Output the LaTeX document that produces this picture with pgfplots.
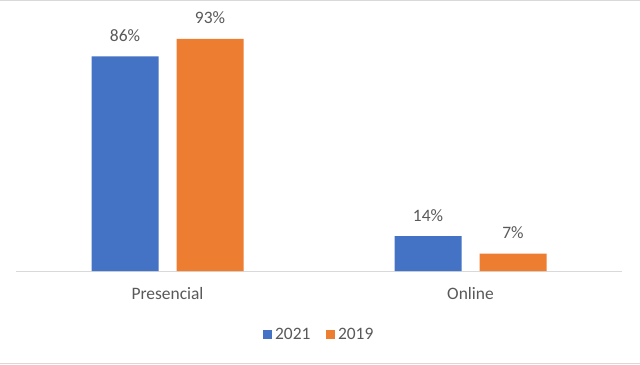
\documentclass[border=0pt]{standalone}
\usepackage{pgfplots}
\pgfplotsset{compat=1.18}
\usepackage{fontspec}
\setmainfont{Carlito}
\definecolor{cblue}{HTML}{4472C4}
\definecolor{corange}{HTML}{ED7D31}
\definecolor{ctext}{HTML}{595959}
\definecolor{cline}{HTML}{D9D9D9}
\newcommand{\lblfont}{\fontsize{17.5}{20}\selectfont}
\pgfplotsset{sqlegend/.style={legend image code/.code={\fill[##1] (0bp,-4.5bp) rectangle (8.5bp,4.5bp);}}}
\begin{document}
\begin{tikzpicture}[x=1bp,y=1bp]
\useasboundingbox (0,0) rectangle (640,364);
\fill[white] (0,0) rectangle (640,364);
\draw[cline, line width=1.5bp] (0,363.25) -- (640,363.25);
\draw[cline, line width=1.5bp] (0,0.75) -- (640,0.75);
\begin{axis}[
  at={(16bp,93bp)}, anchor=south west,
  scale only axis, width=606bp, height=249.5bp,
  xmin=-0.5, xmax=1.5, ymin=0, ymax=100,
  ybar=18bp, bar width=67bp,
  /pgf/number format/assume math mode=true,
  xtick={0,1}, xticklabels={Presencial,Online},
  axis x line=bottom, axis y line=none,
  x axis line style={-, draw=cline, line width=1bp},
  major tick length=0pt, ytick=\empty,
  xticklabel style={anchor=base, inner sep=0pt, yshift=-28bp, font=\lblfont, text=ctext},
  nodes near coords={\pgfmathprintnumber{\pgfplotspointmeta}\%},
  nodes near coords style={anchor=base, inner sep=0pt, yshift=15bp, font=\lblfont, text=ctext},
  legend columns=-1,
  legend style={at={(0.5,-0.2545)}, anchor=center, draw=none, fill=none,
    font=\lblfont, text=ctext, nodes={inner sep=1.5bp},
    /tikz/every odd column/.append style={column sep=2bp},
    /tikz/every even column/.append style={column sep=14bp}},
  clip=false,
]
\addplot[fill=cblue, draw=none, sqlegend] coordinates {(0,86) (1,14)};
\addplot[fill=corange, draw=none, sqlegend] coordinates {(0,93) (1,7)};
\legend{2021,2019}
\end{axis}
\end{tikzpicture}
\end{document}
